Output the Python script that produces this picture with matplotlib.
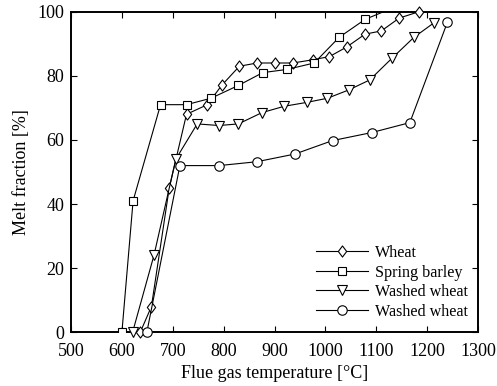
import matplotlib
matplotlib.use("Agg")
import matplotlib.pyplot as plt
from matplotlib.path import Path

plt.rcParams['font.family'] = ['Liberation Serif', 'DejaVu Serif']
plt.rcParams['mathtext.fontset'] = 'stix'

# Melt fraction vs flue gas temperature
wheat_t = [636, 658, 693, 727, 768, 796, 831, 866, 901, 936, 975, 1008, 1042, 1078, 1110, 1145, 1184]
wheat_m = [0, 8, 45, 68, 71, 77, 83, 84, 84, 84, 85, 86, 89, 93, 94, 98, 100]

barley_t = [600, 622, 676, 727, 775, 829, 877, 925, 978, 1027, 1078, 1160]
barley_m = [0, 41, 71, 71, 73, 77, 81, 82, 84, 92, 97.6, 103]

washed1_t = [621, 663, 706, 748, 791, 829, 875, 919, 963, 1004, 1046, 1087, 1131, 1174, 1214]
washed1_m = [0, 24, 54, 65, 64.5, 65, 68.5, 70.5, 71.7, 73, 75.6, 78.7, 85.5, 92, 96.6]

washed2_t = [649, 714, 791, 865, 940, 1014, 1091, 1166, 1240]
washed2_m = [0, 52, 52, 53.2, 55.6, 59.8, 62.3, 65.4, 96.8]

labels = ["Wheat", "Spring barley", "Washed wheat", "Washed wheat"]
x_ticks = list(range(500, 1301, 100))
y_ticks = list(range(0, 101, 20))

diamond = Path([(0, 1), (0.75, 0), (0, -1), (-0.75, 0), (0, 1)],
               [Path.MOVETO, Path.LINETO, Path.LINETO, Path.LINETO, Path.CLOSEPOLY])

fig = plt.figure(figsize=(4.97, 3.86), dpi=100)
ax = fig.add_axes([0.1429, 0.1391, 0.8189, 0.8306])

common = dict(color='black', lw=0.8, mfc='white', mec='black', mew=0.8)
ax.plot(wheat_t, wheat_m, marker=diamond, ms=8, label=labels[0], clip_on=False, zorder=3, **common)
ax.plot(barley_t, barley_m, marker='s', ms=5.3, label=labels[1], clip_on=True, zorder=3, **common)
ax.plot(washed1_t, washed1_m, marker='v', ms=7.5, label=labels[2], clip_on=False, zorder=3, **common)
ax.plot(washed2_t, washed2_m, marker='o', ms=6.8, label=labels[3], clip_on=False, zorder=3, **common)

ax.set_xlim(500, 1300)
ax.set_ylim(0, 100)
ax.set_xticks(x_ticks)
ax.set_yticks(y_ticks)
ax.tick_params(direction='in', top=True, right=True, length=4, width=0.8,
               labelsize=13)
ax.tick_params(axis='x', pad=7.5)
ax.tick_params(axis='y', pad=5)
for s in ax.spines.values():
    s.set_linewidth(1.4)

ax.set_xlabel("Flue gas temperature [°C]", fontsize=13, labelpad=4)
ax.set_ylabel("Melt fraction [%]", fontsize=13, labelpad=5)

leg = ax.legend(loc='upper left', bbox_to_anchor=(316 / 497, 1 - 245 / 386),
                bbox_transform=fig.transFigure, frameon=False, fontsize=11.6,
                handlelength=3.2, handletextpad=0.45, labelspacing=0.22,
                borderpad=0, borderaxespad=0)

fig.savefig("out.png", dpi=100)
